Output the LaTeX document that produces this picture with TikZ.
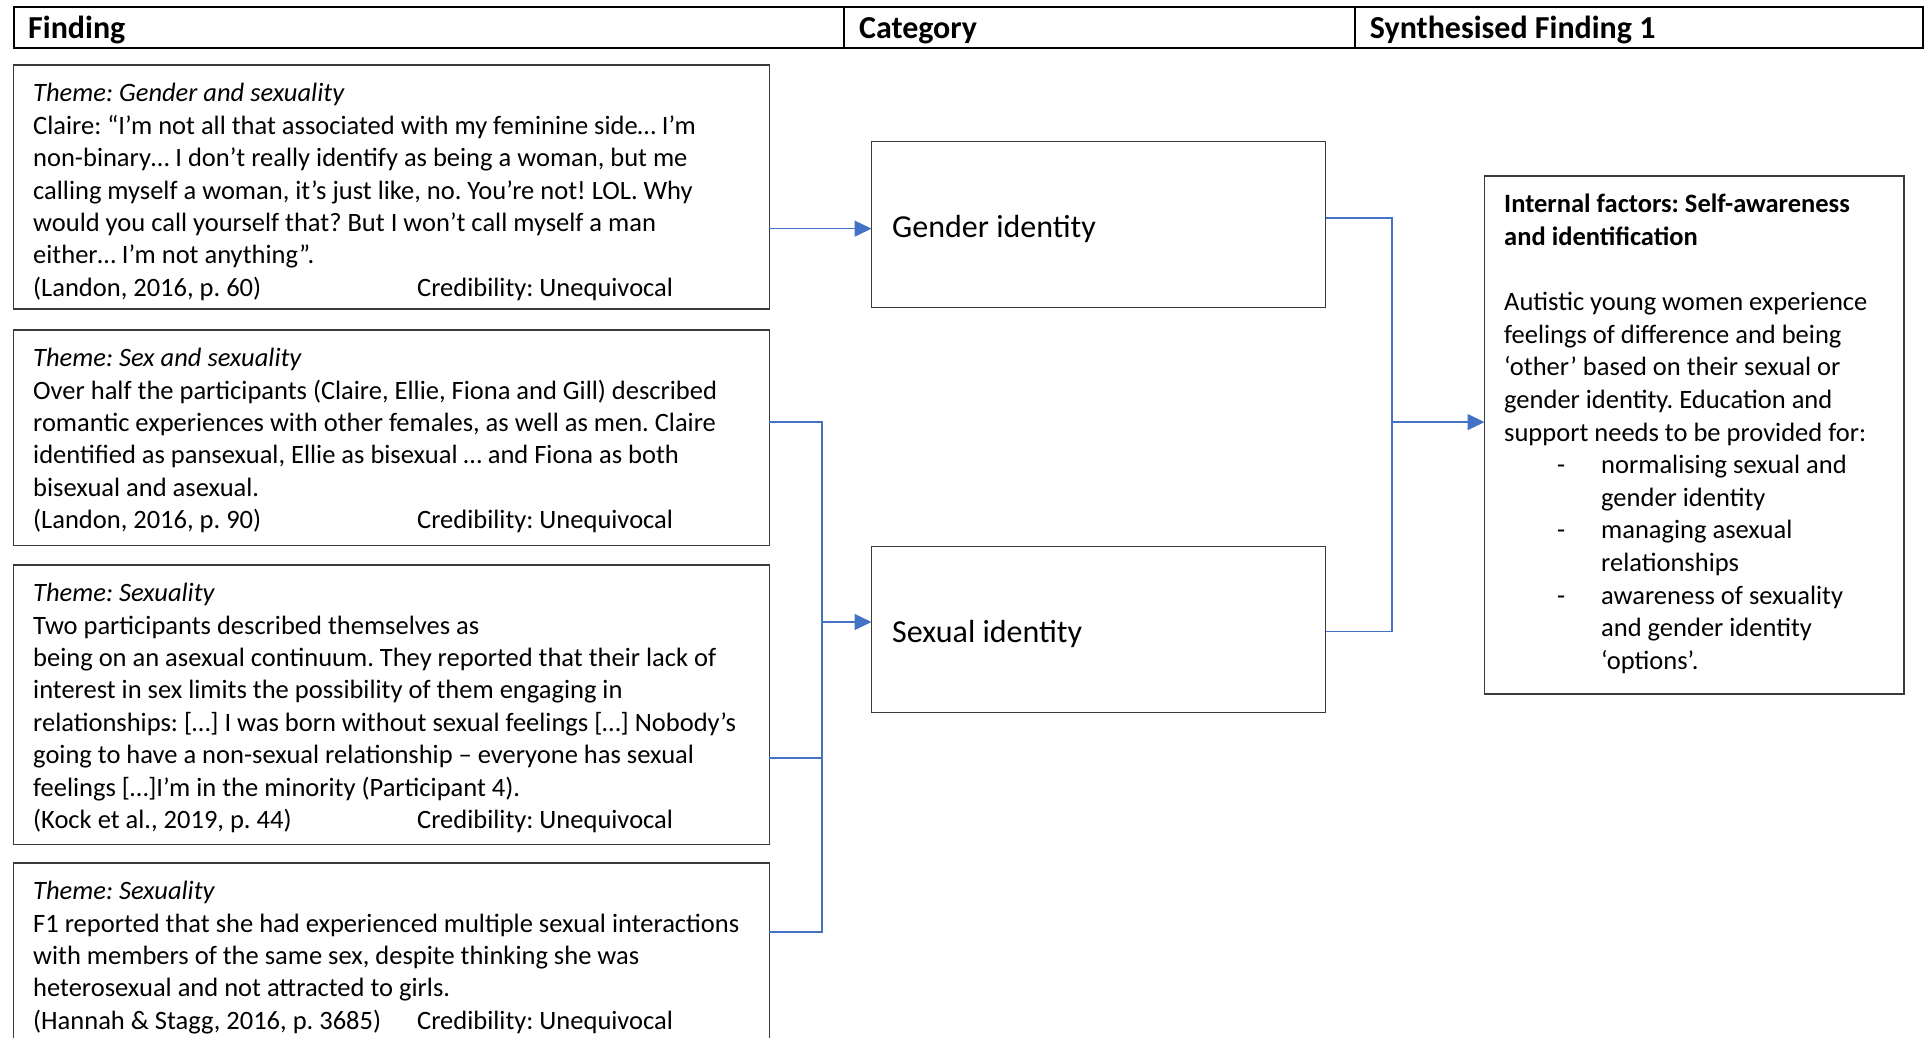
\documentclass[tikz,border=0pt]{standalone}
\usepackage{fontspec}
\setmainfont{Carlito}
\usetikzlibrary{arrows.meta,calc}
\definecolor{linkblue}{HTML}{4472C4}
\definecolor{boxgray}{HTML}{3A3A3A}
\tikzset{
  fbox/.style={draw=boxgray, line width=1.5pt, anchor=north west, inner sep=0pt, outer sep=0pt},
  hbox/.style={draw=black, line width=2pt, anchor=north west, inner sep=0pt, outer sep=0pt, minimum height=40.6pt},
  htext/.style={anchor=base west, inner sep=0pt, font=\fontsize{32}{38}\selectfont\bfseries},
  ctext/.style={anchor=base west, inner sep=0pt, font=\fontsize{32}{38}\selectfont},
  ftext/.style={anchor=north west, inner sep=0pt, align=left, font=\fontsize{26.5}{32.4}\selectfont},
  stext/.style={anchor=north west, inner sep=0pt, align=left, font=\fontsize{26.5}{32.6}\selectfont},
  conn/.style={draw=linkblue, line width=1.5pt},
  arr/.style={conn, -{Triangle[length=17pt,width=16pt]}},
}
\newcommand{\credline}[1]{\makebox[384pt][l]{#1}Credibility: Unequivocal}
\frenchspacing
\begin{document}
\frenchspacing
\begin{tikzpicture}[x=1pt,y=-1pt]
\useasboundingbox (0,0) rectangle (1930,1038);
\clip (0,0) rectangle (1930,1038);
\fill[white] (0,0) rectangle (1930,1038);

% header
\node[hbox, minimum width=830.9pt] (h1) at (13.5,7.4) {};
\node[hbox, minimum width=510.8pt] (h2) at (h1.north east) {};
\node[hbox, minimum width=567.5pt] (h3) at (h2.north east) {};
\node[htext] (h1t) at ($(h1.north west)+(14.5,31)$) {Finding};
\node[htext] (h2t) at ($(h2.north west)+(14.5,31)$) {Category};
\node[htext] (h3t) at ($(h3.north west)+(14.5,31)$) {Synthesised Finding 1};

% finding boxes
\node[fbox, minimum width=755.8pt, minimum height=243.8pt] (f1) at (13.5,65.2) {};
\node[fbox, minimum width=755.8pt, minimum height=215.4pt] (f2) at (13.5,330) {};
\node[fbox, minimum width=755.8pt, minimum height=279.4pt] (f3) at (13.5,565) {};
\node[fbox, minimum width=755.8pt, minimum height=200pt] (f4) at (13.5,863) {};

\node[ftext] (t1) at ($(f1.north west)+(19.5,13.8)$) {\strut\textit{Theme: Gender and sexuality}\\
Claire: “I’m not all that associated with my feminine side… I’m\\
non-binary… I don’t really identify as being a woman, but me\\
calling myself a woman, it’s just like, no. You’re not! LOL. Why\\
would you call yourself that? But I won’t call myself a man\\
either… I’m not anything”.\\
\credline{(Landon, 2016, p. 60)}};

\node[ftext] (t2) at ($(f2.north west)+(19.5,13.8)$) {\strut\textit{Theme: Sex and sexuality}\\
Over half the participants (Claire, Ellie, Fiona and Gill) described\\
romantic experiences with other females, as well as men. Claire\\
identified as pansexual, Ellie as bisexual … and Fiona as both\\
bisexual and asexual.\\
\credline{(Landon, 2016, p. 90)}};

\node[ftext] (t3) at ($(f3.north west)+(19.5,13.8)$) {\strut\textit{Theme: Sexuality}\\
Two participants described themselves as\\
being on an asexual continuum. They reported that their lack of\\
interest in sex limits the possibility of them engaging in\\
relationships: […] I was born without sexual feelings […] Nobody’s\\
going to have a non-sexual relationship – everyone has sexual\\
feelings […]I’m in the minority (Participant 4).\\
\credline{(Kock et al., 2019, p. 44)}};

\node[ftext] (t4) at ($(f4.north west)+(19.5,13.8)$) {\strut\textit{Theme: Sexuality}\\
F1 reported that she had experienced multiple sexual interactions\\
with members of the same sex, despite thinking she was\\
heterosexual and not attracted to girls.\\
\credline{(Hannah \& Stagg, 2016, p. 3685)}};

% category boxes
\node[fbox, minimum width=454.2pt, minimum height=166.1pt] (gi) at (871.5,141.6) {};
\node[fbox, minimum width=454.2pt, minimum height=166.2pt] (si) at (871.5,546.5) {};
\node[ctext] (git) at ($(gi.north west)+(20.5,95.9)$) {Gender identity};
\node[ctext] (sit) at ($(si.north west)+(20.5,96)$) {Sexual identity};

% synthesised finding box
\node[fbox, minimum width=419.7pt, minimum height=518.2pt] (sf) at (1484.5,176) {};
\node[stext] (sft) at ($(sf.north west)+(19.5,13.8)$) {\strut\textbf{Internal factors: Self-awareness}\\
\textbf{and identification}\\[32.6pt]
Autistic young women experience\\
feelings of difference and being\\
‘other’ based on their sexual or\\
gender identity. Education and\\
support needs to be provided for:\\
\hspace*{53pt}\makebox[44pt][l]{-}normalising sexual and\\
\hspace*{97pt}gender identity\\
\hspace*{53pt}\makebox[44pt][l]{-}managing asexual\\
\hspace*{97pt}relationships\\
\hspace*{53pt}\makebox[44pt][l]{-}awareness of sexuality\\
\hspace*{97pt}and gender identity\\
\hspace*{97pt}‘options’.};

% connector anchor points
\coordinate (gin) at ($(gi.west)+(0,4)$);
\coordinate (sin) at ($(si.west)+(0,-7.6)$);
\coordinate (e2) at ($(f2.north east)+(0,92)$);
\coordinate (e3) at ($(f3.north east)+(0,193)$);
\coordinate (e4) at ($(f4.north east)+(0,69)$);
\coordinate (jl) at (822,0);
\coordinate (ge) at ($(gi.north east)+(0,76.4)$);
\coordinate (se) at ($(si.east)+(0,1.9)$);
\coordinate (jr) at (1392,0);
\coordinate (sfin) at ($(sf.west)+(0,-13)$);

% connectors
\draw[arr] (f1.east |- gin) -- (gin);
\draw[conn] (e2) -| (jl |- e4) -- (e4);
\draw[conn] (e3) -- (jl |- e3);
\draw[arr] (jl |- sin) -- (sin);
\draw[conn] (ge) -| (jr |- se) -- (se);
\draw[arr] (jr |- sfin) -- (sfin);
\end{tikzpicture}
\end{document}
